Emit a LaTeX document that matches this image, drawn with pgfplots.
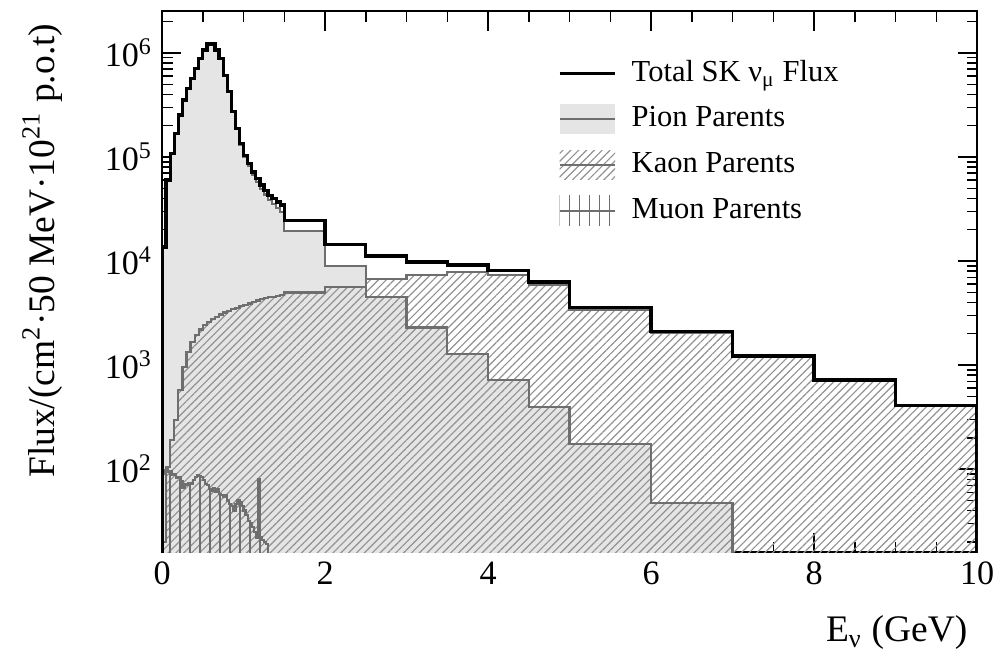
\documentclass[border=0pt]{standalone}
\usepackage{fontspec}
\setmainfont{Liberation Serif}
\usepackage{pgfplots}
\usepackage{pgfplotstable}
\pgfplotsset{compat=1.18}
\usetikzlibrary{patterns.meta}
\definecolor{pionfill}{RGB}{229,229,229}
\definecolor{pionline}{RGB}{110,110,110}
\definecolor{hatchc}{RGB}{145,145,145}
\tikzset{
  kaonpat/.style={pattern={Lines[angle=45,distance=2pt,line width=0.42pt]}, pattern color=hatchc},
  muonpat/.style={pattern={Lines[angle=90,distance=3.6pt,line width=0.6pt]}, pattern color=pionline},
}

% Total SK numu flux (left bin edge, content); last row repeats the final value at the right edge
\pgfplotstableread{
x y
0.00 13700
0.05 60000
0.10 108000
0.15 169000
0.20 253000
0.25 353000
0.30 457000
0.35 571000
0.40 713000
0.45 890000
0.50 1070000
0.55 1220000
0.60 1220000
0.65 1070000
0.70 890000
0.75 610000
0.80 425000
0.85 273000
0.90 189000
0.95 135000
1.00 104000
1.05 87000
1.10 72000
1.15 62000
1.20 54000
1.25 48000
1.30 43000
1.35 40000
1.40 37000
1.45 34500
1.50 24500
2.00 14500
2.50 11200
3.00 9800
3.50 9200
4.00 8100
4.50 6300
5.00 3600
6.00 2100
7.00 1220
8.00 718
9.00 412
10.00 412
}\totaltab

\pgfplotstableread{
x y
0.00 13600
0.05 59800
0.10 107800
0.15 168700
0.20 252400
0.25 352000
0.30 455600
0.35 569000
0.40 711000
0.45 888000
0.50 1067600
0.55 1217000
0.60 1217000
0.65 1067000
0.70 887000
0.75 607000
0.80 422000
0.85 269000
0.90 185000
0.95 131000
1.00 100000
1.05 83000
1.10 68000
1.15 57800
1.20 49700
1.25 43600
1.30 38500
1.35 35500
1.40 32400
1.45 29700
1.50 19500
2.00 8900
2.50 4500
3.00 2300
3.50 1280
4.00 718
4.50 398
5.00 174
6.00 47
7.00 47
}\piontab

\pgfplotstableread{
x y
0.00 20
0.05 105
0.10 190
0.15 296
0.20 575
0.25 964
0.30 1340
0.35 1680
0.40 1940
0.45 2200
0.50 2420
0.55 2600
0.60 2770
0.65 2910
0.70 3070
0.75 3210
0.80 3330
0.85 3450
0.90 3560
0.95 3690
1.00 3800
1.05 3920
1.10 4040
1.15 4170
1.20 4290
1.25 4390
1.30 4490
1.35 4550
1.40 4650
1.45 4750
1.50 5000
2.00 5600
2.50 6700
3.00 7400
3.50 7900
4.00 7400
4.50 5900
5.00 3430
6.00 2050
7.00 1220
8.00 718
9.00 412
10.00 412
}\kaontab

\pgfplotstableread{
x y
0.000 90
0.025 98
0.050 100
0.075 94
0.100 96
0.125 88
0.150 90
0.175 82
0.200 84
0.225 76
0.250 66
0.275 72
0.300 70
0.325 74
0.350 72
0.375 78
0.400 84
0.425 88
0.450 86
0.475 84
0.500 78
0.525 72
0.550 70
0.575 64
0.600 62
0.625 66
0.650 60
0.675 64
0.700 58
0.725 56
0.750 54
0.775 56
0.800 50
0.825 46
0.850 44
0.875 40
0.900 46
0.925 50
0.950 48
0.975 44
1.000 40
1.025 36
1.050 32
1.075 30
1.100 28
1.125 25
1.150 22
1.175 80
1.200 22
1.225 21
1.250 20
1.275 19
1.300 19
}\muontab

\begin{document}
\begin{tikzpicture}
\begin{axis}[
  scale only axis, width=293.7pt, height=195pt,
  xmin=0, xmax=10, ymode=log, ymin=15.9, ymax=2.53e6,
  xtick={0,2,4,6,8,10}, xticklabels={0,2,4,6,8,10},
  minor xtick={0.5,1,1.5,2.5,3,3.5,4.5,5,5.5,6.5,7,7.5,8.5,9,9.5},
  ytick={100,1000,10000,100000,1000000},
  yticklabels={10\textsuperscript{2},10\textsuperscript{3},10\textsuperscript{4},10\textsuperscript{5},10\textsuperscript{6}},
  minor ytick={20,30,40,50,60,70,80,90,200,300,400,500,600,700,800,900,2000,3000,4000,5000,6000,7000,8000,9000,20000,30000,40000,50000,60000,70000,80000,90000,200000,300000,400000,500000,600000,700000,800000,900000,2000000},
  tick align=inside, tick pos=both,
  major tick length=7pt, minor tick length=3.8pt,
  every tick/.style={black, line width=0.5pt},
  axis line style={line width=0.7pt},
  /pgf/number format/assume math mode=true,
  tick label style={font=\fontsize{12.3}{14}\selectfont},
  xlabel={E\textsubscript{ν} (GeV)},
  xlabel style={at={([yshift=-28.8pt]rel axis cs:1,0)}, anchor=east, font=\fontsize{13.5}{15}\selectfont},
  ylabel={Flux/(cm\textsuperscript{2}·50 MeV·10\textsuperscript{21} p.o.t)},
  ylabel style={at={([xshift=-43.2pt,yshift=-1pt]rel axis cs:0,1)}, anchor=east, font=\fontsize{13.5}{15}\selectfont},
  legend style={at={(rel axis cs:0.485,0.912)}, anchor=north west, draw=none, fill=none,
    inner sep=0pt, font=\fontsize{11}{13}\selectfont, row sep=5.7pt,
    nodes={inner sep=0pt, text height=8pt, text depth=2.5pt},
    /tikz/every odd column/.append style={column sep=5.4pt}},
  legend cell align=left,
]
\coordinate (bl) at (rel axis cs:0,0);
\coordinate (tr) at (rel axis cs:1,1);
% Pion fill
\addplot[forget plot, const plot, draw=none, fill=pionfill] table[x=x,y=y]{\piontab} \closedcycle;
% Kaon hatch + outline
\addplot[forget plot, const plot, draw=none, kaonpat] table[x=x,y=y]{\kaontab} \closedcycle;
\addplot[forget plot, const plot, draw=pionline, line width=0.8pt] table[x=x,y=y]{\kaontab} \closedcycle;
% Pion outline
\addplot[forget plot, const plot, draw=pionline, line width=0.8pt] table[x=x,y=y]{\piontab} \closedcycle;
% Muon
\addplot[forget plot, const plot, draw=none, muonpat] table[x=x,y=y]{\muontab} \closedcycle;
\addplot[forget plot, const plot, draw=pionline, line width=0.8pt] table[x=x,y=y]{\muontab} \closedcycle;
% Total
\addplot[forget plot, const plot, draw=black, line width=1.2pt] table[x=x,y=y]{\totaltab} \closedcycle;

\addlegendimage{legend image code/.code={\draw[black,line width=1.2pt] (0pt,0pt) -- (20pt,0pt);}}
\addlegendentry{Total SK ν\textsubscript{μ} Flux}
\addlegendimage{legend image code/.code={\path[draw=none,fill=pionfill] (0pt,-5.4pt) rectangle (20pt,5.4pt); \draw[pionline,line width=0.8pt] (0pt,0pt) -- (20pt,0pt);}}
\addlegendentry{Pion Parents}
\addlegendimage{legend image code/.code={\path[draw=none,kaonpat] (0pt,-5.4pt) rectangle (20pt,5.4pt); \draw[pionline,line width=0.6pt] (0pt,0pt) -- (20pt,0pt);}}
\addlegendentry{Kaon Parents}
\addlegendimage{legend image code/.code={\path[draw=none,muonpat] (0pt,-5.4pt) rectangle (20pt,5.4pt); \draw[pionline,line width=0.6pt] (0pt,0pt) -- (20pt,0pt);}}
\addlegendentry{Muon Parents}
\end{axis}
\pgfresetboundingbox
\path[use as bounding box] ([xshift=-58.4pt,yshift=-38.2pt]bl) rectangle ([xshift=7.9pt,yshift=4pt]tr);
\end{tikzpicture}
\end{document}
